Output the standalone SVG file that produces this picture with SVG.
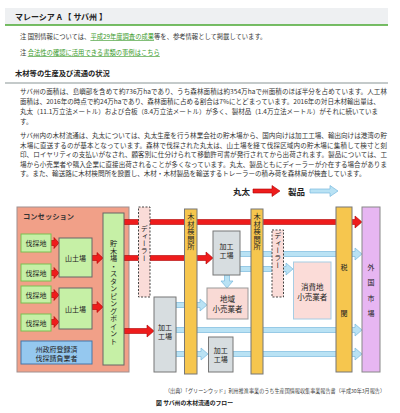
<svg xmlns="http://www.w3.org/2000/svg" width="400" height="413" viewBox="0 0 400 413">
<style>
text{font-family:"Noto Sans CJK JP","Noto Sans",sans-serif;fill:#333}
.p{font-size:6.55px}
.n{font-size:6.3px}
.lnk{fill:#3a9a2a;text-decoration:underline}
.d{font-size:7px;fill:#222}
.c{text-anchor:middle;dominant-baseline:central}
.v{writing-mode:vertical-rl;font-size:7.2px;fill:#222}
.red{fill:#ee1c1c;stroke:#b00000;stroke-width:0.6}
.blue{fill:#b9e2f4;stroke:#79b9de;stroke-width:0.7}
.box{stroke-width:1}
</style>
<!-- header -->
<rect x="5" y="8" width="383" height="17" fill="#eef0f2"/>
<line x1="5" y1="25" x2="388" y2="25" stroke="#4aa832" stroke-width="1.5"/>
<text x="15" y="19.5" style="font-size:8px;font-weight:bold;fill:#222">マレーシア A 【 サバ州 】</text>
<text class="n" x="20" y="39">注 国別情報については、<tspan class="lnk">平成29年度調査の成果</tspan>等を、参考情報として掲載しています。</text>
<text class="n" x="20" y="55">注 <tspan class="lnk">合法性の確認に活用できる書類の事例はこちら</tspan></text>
<text x="15" y="76" style="font-size:7.3px;font-weight:bold;fill:#222">木材等の生産及び流通の状況</text>
<line x1="5" y1="83" x2="388" y2="83" stroke="#b0b8b8" stroke-width="1.5"/>
<!-- paragraphs -->
<text class="p" x="20" y="94" textLength="367" lengthAdjust="spacing">サバ州の面積は、島嶼部を含めて約736万haであり、うち森林面積は約354万haで州面積のほぼ半分を占めています。人工林</text>
<text class="p" x="20" y="104">面積は、2016年の時点で約24万haであり、森林面積に占める割合は7%にとどまっています。2016年の対日木材輸出量は、</text>
<text class="p" x="20" y="114">丸太（11.1万立法メートル）および合板（8.4万立法メートル）が多く、製材品（1.4万立法メートル）がそれに続いていま</text>
<text class="p" x="20" y="124">す。</text>
<text class="p" x="20" y="138" textLength="367" lengthAdjust="spacing">サバ州内の木材流通は、丸太については、丸太生産を行う林業会社の貯木場から、国内向けは加工工場、輸出向けは港湾の貯</text>
<text class="p" x="20" y="147.5" textLength="367" lengthAdjust="spacing">木場に直送するのが基本となっています。森林で伐採された丸太は、山土場を経て伐採区域内の貯木場に集積して検寸と刻</text>
<text class="p" x="20" y="157" textLength="367" lengthAdjust="spacing">印、ロイヤリティの支払いがなされ、顧客別に仕分けられて移動許可書が発行されてから出荷されます。製品については、工</text>
<text class="p" x="20" y="166.5" textLength="367" lengthAdjust="spacing">場から小売業者や購入企業に直接出荷されることが多くなっています。丸太、製品ともにディーラーが介在する場合がありま</text>
<text class="p" x="20" y="176">す。また、輸送路に木材検問所を設置し、木材・木材製品を輸送するトレーラーの積み荷を森林局が検査しています。</text>
<!-- legend -->
<g id="legend">
<text x="233" y="194.5" style="font-size:8.5px;font-weight:bold;fill:#222">丸太</text>
<path class="red" d="M253,189 H272 V185.5 L280,191 L272,196.5 V193 H253 Z"/>
<text x="288" y="194.5" style="font-size:8.5px;font-weight:bold;fill:#222">製品</text>
<path class="blue" d="M310,189 H330 V185.5 L338,191 L330,196.5 V193 H310 Z"/>
</g>
<!-- concession background -->
<g id="concession">
<rect x="17" y="207" width="112" height="165" fill="#f1a088" stroke="#a09090"/>
<text x="23" y="219" style="font-size:7.3px;font-weight:bold;fill:#333">コンセッション</text>
</g>
<!-- connectors -->
<g id="connectors">
<!-- small red arrows -->
<path class="red" d="M51,240.5 H54 V237.5 L59,243 L54,248.5 V245.5 H51 Z"/>
<path class="red" d="M51,270.5 H54 V267.5 L59,273 L54,278.5 V275.5 H51 Z"/>
<path class="red" d="M51,292.5 H54 V289.5 L59,295 L54,300.5 V297.5 H51 Z"/>
<path class="red" d="M51,319.5 H54 V316.5 L59,322 L54,327.5 V324.5 H51 Z"/>
<path class="red" d="M92,255.5 H97 V252.5 L103,258 L97,263.5 V260.5 H92 Z"/>
<path class="red" d="M92,304.5 H97 V301.5 L103,307 L97,312.5 V309.5 H92 Z"/>
<!-- long red arrows -->
<path class="red" d="M124,219.5 H355 V216 L362,222 L355,228 V224.5 H124 Z"/>
<path class="red" d="M124,255.5 H206 V252 L213,258 L206,264 V260.5 H124 Z"/>
<path class="red" d="M124,328.5 H147 V325 L154,331 L147,337 V333.5 H124 Z"/>
<!-- blue arrows -->
<path class="blue" d="M240,251.5 H355 V248 L362,254 L355,260 V256.5 H240 Z"/>
<path class="blue" d="M240,266.5 H286 V263 L293,269 L286,275 V271.5 H240 Z"/>
<path class="blue" d="M224.5,275 V281 H221 L227,288 L233,281 H229.5 V275 Z"/>
<path class="blue" d="M176,302.5 H200 V299 L207,305 L200,311 V307.5 H176 Z"/>
<path class="blue" d="M176,327.5 H355 V324 L362,330 L355,336 V332.5 H176 Z"/>
<path class="blue" d="M176,351.5 H201 V348 L208,354 L201,360 V356.5 H176 Z"/>
<path class="blue" d="M233,351.5 H355 V348 L362,354 L355,360 V356.5 H233 Z"/>
</g>
<!-- nodes -->
<g id="fell1"><rect x="21" y="234" width="30" height="18" fill="#c6f0a6" stroke="#7ac050"/><text class="d c" x="36" y="243">伐採地</text></g>
<g id="fell2"><rect x="21" y="264" width="30" height="17" fill="#c6f0a6" stroke="#7ac050"/><text class="d c" x="36" y="272.5">伐採地</text></g>
<g id="fell3"><rect x="21" y="286" width="30" height="17" fill="#c6f0a6" stroke="#7ac050"/><text class="d c" x="36" y="294.5">伐採地</text></g>
<g id="fell4"><rect x="21" y="314" width="30" height="17" fill="#c6f0a6" stroke="#7ac050"/><text class="d c" x="36" y="322.5">伐採地</text></g>
<g id="landing1"><rect x="59" y="238" width="33" height="39" fill="#c6f0a6" stroke="#666"/><text class="d c" x="75.5" y="258">山土場</text></g>
<g id="landing2"><rect x="59" y="288" width="33" height="41" fill="#c6f0a6" stroke="#666"/><text class="d c" x="75.5" y="309">山土場</text></g>
<g id="contractor"><rect x="21" y="341" width="71" height="23" fill="#95c8ef" stroke="#4477aa"/><text class="d c" x="56.5" y="348.5">州政府登録済</text><text class="d c" x="56.5" y="357.5">伐採請負業者</text></g>
<g id="stockyard"><rect x="103" y="213" width="21" height="152" fill="#c6f0a6" stroke="#666"/><text class="v" x="113.5" y="240" letter-spacing="0.3">貯木場・スタンピングポイント</text></g>
<g id="dealer1"><rect x="138.5" y="207" width="11.5" height="90" fill="#fadcd8" stroke="#444" stroke-dasharray="2,1.5"/><text class="v" x="144.3" y="225" style="font-size:7px" letter-spacing="0.4">ディーラー</text></g>
<g id="check1"><rect x="184.5" y="209" width="12.5" height="165" fill="#f6c64e" stroke="#777"/><text class="v" x="190.8" y="213" letter-spacing="0.2">木材検問所</text></g>
<g id="mill1"><rect x="213" y="231" width="27" height="44" fill="#d7dde0" stroke="#777"/><text class="d c" x="226.5" y="246">加工</text><text class="d c" x="226.5" y="255">工場</text></g>
<g id="local"><rect x="207" y="288" width="41" height="31" fill="#f9dad5" stroke="#999"/><text class="c" x="227.5" y="298.5" style="font-size:7.5px;fill:#222">地域</text><text class="c" x="227.5" y="308.5" style="font-size:7.5px;fill:#222">小売業者</text></g>
<g id="mill2"><rect x="154" y="297" width="22" height="75" fill="#d7dde0" stroke="#777"/><text class="d c" x="165" y="327">加工</text><text class="d c" x="165" y="336">工場</text></g>
<g id="mill3"><rect x="208.5" y="337" width="24.5" height="35" fill="#d7dde0" stroke="#777"/><text class="d c" x="220.7" y="350">加工</text><text class="d c" x="220.7" y="359">工場</text></g>
<g id="check2"><rect x="251" y="209" width="12" height="165" fill="#f6c64e" stroke="#777"/><text class="v" x="257" y="213" letter-spacing="0.2">木材検問所</text></g>
<g id="dealer2"><rect x="272" y="230" width="11.5" height="67" fill="#fadcd8" stroke="#444" stroke-dasharray="2,1.5"/><text class="v" x="277.8" y="232" style="font-size:7px" letter-spacing="0.4">ディーラー</text></g>
<g id="consumer"><rect x="293.5" y="262" width="37.5" height="57" fill="#fbdcd8" stroke="#a6cde4"/><text class="c" x="312.3" y="286" style="font-size:7.5px;fill:#222">消費地</text><text class="c" x="312.3" y="296" style="font-size:7.5px;fill:#222">小売業者</text></g>
<g id="customs"><rect x="336" y="207" width="16" height="165" fill="#f6c64e" stroke="#777"/><text class="d c" x="344" y="267">税</text><text class="d c" x="344" y="313">関</text></g>
<g id="foreign"><rect x="362" y="207" width="18" height="165" fill="#e7b6f2" stroke="#888"/><text class="d c" x="371" y="267">外</text><text class="d c" x="371" y="282">国</text><text class="d c" x="371" y="298">市</text><text class="d c" x="371" y="313">場</text></g>
<!-- captions -->
<text x="165" y="393" textLength="220" lengthAdjust="spacingAndGlyphs" style="font-size:5.2px;fill:#444">（出典）「グリーンウッド」利用推進事業のうち生産国情報収集事業報告書（平成30年3月報告）</text>
<text x="156" y="405" textLength="77" lengthAdjust="spacingAndGlyphs" style="font-size:6px;font-weight:bold;fill:#222">図 サバ州の木材流通のフロー</text>
</svg>
